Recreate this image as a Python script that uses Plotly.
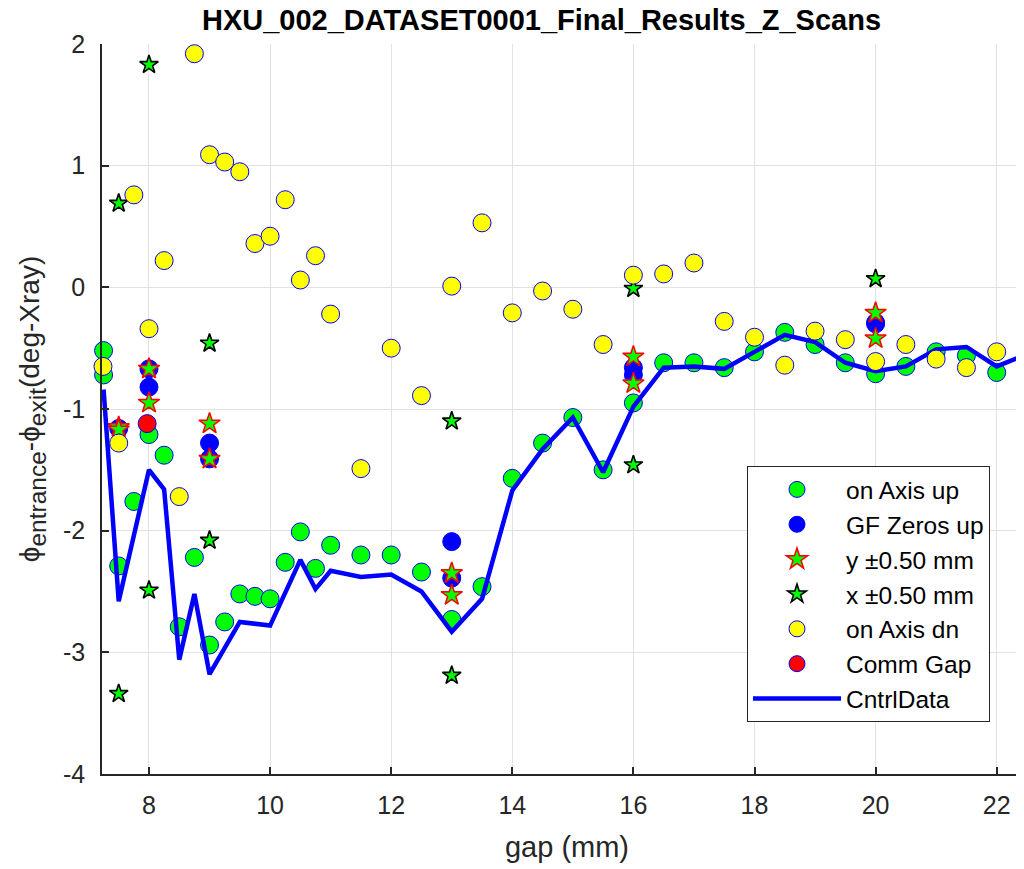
import plotly.graph_objects as go

# ---------------- data ----------------
gap_up = [7.25, 7.25, 7.5, 7.75, 8, 8.25, 8.5, 8.75, 9, 9.25, 9.5, 9.75, 10, 10.25, 10.5,
          10.75, 11, 11.5, 12, 12.5, 13, 13.5, 14, 14.5, 15, 15.5, 16, 16.5, 17, 17.5,
          18, 18.5, 19, 19.5, 20, 20.5, 21, 21.5, 22, 22.5]
on_axis_up = [-0.52, -0.72, -2.29, -1.76, -1.21, -1.38, -2.79, -2.22, -2.94, -2.75, -2.52,
              -2.54, -2.56, -2.26, -2.01, -2.31, -2.12, -2.20, -2.20, -2.34, -2.73, -2.46,
              -1.57, -1.28, -1.07, -1.50, -0.95, -0.62, -0.62, -0.66, -0.53, -0.37, -0.47,
              -0.62, -0.71, -0.65, -0.53, -0.56, -0.70, -0.46]

gap_dn = [7.24, 7.22, 7.5, 7.75, 8, 8.25, 8.5, 8.75, 9, 9.25, 9.5, 9.75, 10, 10.25, 10.5,
          10.75, 11, 11.5, 12, 12.5, 13, 13.5, 14, 14.5, 15, 15.5, 16, 16.5, 17, 17.5,
          18, 18.5, 19, 19.5, 20, 20.5, 21, 21.5, 22, 22.5]
on_axis_dn = [-0.65, -1.22, -1.28, 0.76, -0.34, 0.22, -1.72, 1.92, 1.09, 1.03, 0.95, 0.36,
              0.42, 0.72, 0.06, 0.26, -0.22, -1.49, -0.50, -0.89, 0.01, 0.53, -0.21, -0.03,
              -0.18, -0.47, 0.10, 0.11, 0.20, -0.28, -0.41, -0.64, -0.36, -0.43, -0.61,
              -0.47, -0.59, -0.66, -0.53, -0.55]

gap_gf = [7.5, 8, 8, 9, 9, 13, 13, 16, 16, 20, 20]
gf_zeros_up = [-1.16, -0.67, -0.82, -1.28, -1.41, -2.09, -2.39, -0.66, -0.72, -0.29, -0.30]

gap_y = [7.5, 7.5, 8, 8, 9, 9, 13, 13, 16, 16, 20, 20]
y_offset = [-1.15, -1.17, -0.67, -0.95, -1.12, -1.41, -2.35, -2.53, -0.57, -0.79, -0.21, -0.42]

gap_x = [7.5, 7.5, 8, 8, 9, 9, 13, 13, 16, 16, 20]
x_offset = [0.69, -3.34, 1.83, -2.49, -0.46, -2.08, -1.10, -3.19, -0.01, -1.46, 0.07]

gap_comm = [7.97]
comm_gap = [-1.12]

gap_ctrl = [7.25, 7.5, 8, 8.25, 8.5, 8.75, 9, 9.5, 10, 10.5, 10.75, 11, 11.5, 12, 12.5,
            13, 13.5, 14, 14.5, 15, 15.5, 16, 16.5, 17, 17.5, 18, 18.5, 19, 19.5, 20,
            20.5, 21, 21.5, 22, 22.5]
cntrl_data = [-0.84, -2.58, -1.50, -1.66, -3.06, -2.52, -3.18, -2.75, -2.78, -2.24, -2.48,
              -2.33, -2.38, -2.36, -2.50, -2.83, -2.56, -1.67, -1.33, -1.07, -1.52, -0.98,
              -0.66, -0.65, -0.67, -0.53, -0.39, -0.45, -0.62, -0.69, -0.65, -0.51, -0.49,
              -0.65, -0.55]

x_ticks = [8, 10, 12, 14, 16, 18, 20, 22]
y_ticks = [-4, -3, -2, -1, 0, 1, 2]

title_text = "HXU_002_DATASET0001_Final_Results_Z_Scans"
x_label = "gap (mm)"
# main parts at 28 px, subscripts at 70 % of the 35 px base font
y_label = ("<span style='font-size:28px'>ϕ</span><sub>entrance</sub>"
           "<span style='font-size:28px'>-ϕ</span><sub>exit</sub>"
           "<span style='font-size:28px'>(deg-Xray)</span>")

# ---------------- figure ----------------
FONT = "Liberation Sans, Arial, Helvetica, sans-serif"
AX = "#262626"

# page body has an 8 px margin: figure coordinates = screen coordinates - 8
W, H = 1024, 869
ML, MT, MB = 94, 36, 103
PW = W - ML
PH = H - MT - MB

fig = go.Figure()

fig.add_trace(go.Scatter(
    x=gap_up, y=on_axis_up, mode="markers", name="on Axis up", legendrank=1,
    cliponaxis=False,
    marker=dict(symbol="circle", size=18, color="#00ff00", line=dict(color="#0000ff", width=1))))
fig.add_trace(go.Scatter(
    x=gap_gf, y=gf_zeros_up, mode="markers", name="GF Zeros up", legendrank=2,
    cliponaxis=False,
    marker=dict(symbol="circle", size=18, color="#0000ff", line=dict(color="#0000ff", width=1))))
fig.add_trace(go.Scatter(
    x=gap_y, y=y_offset, mode="markers", name="y ±0.50 mm", legendrank=3,
    cliponaxis=False,
    marker=dict(symbol="star", size=16, color="#00ff00", line=dict(color="#ff0000", width=1.5))))
fig.add_trace(go.Scatter(
    x=gap_x, y=x_offset, mode="markers", name="x ±0.50 mm", legendrank=4,
    cliponaxis=False,
    marker=dict(symbol="star", size=14, color="#00ff00", line=dict(color="#000000", width=1.6))))
fig.add_trace(go.Scatter(
    x=gap_ctrl, y=cntrl_data, mode="lines", name="CntrlData", legendrank=7,
    line=dict(color="#0000ff", width=4.5)))
fig.add_trace(go.Scatter(
    x=gap_dn, y=on_axis_dn, mode="markers", name="on Axis dn", legendrank=5,
    cliponaxis=False,
    marker=dict(symbol="circle", size=18, color="#ffff00", line=dict(color="#0000ff", width=1))))
fig.add_trace(go.Scatter(
    x=gap_comm, y=comm_gap, mode="markers", name="Comm Gap", legendrank=6,
    cliponaxis=False,
    marker=dict(symbol="circle", size=18, color="#ff0000", line=dict(color="#0000ff", width=1))))

fig.update_layout(
    width=W, height=H,
    margin=dict(l=ML, r=0, t=MT, b=MB, autoexpand=False),
    paper_bgcolor="white", plot_bgcolor="white",
    font=dict(family=FONT, size=24, color=AX),
    title=dict(text="<b>" + title_text + "</b>", x=533.5 / W, xanchor="center",
               y=1 - 2 / H, yanchor="top", yref="container", pad=dict(t=0, b=0),
               font=dict(family=FONT, size=29, color="#000000")),
    showlegend=True,
    legend=dict(x=(739 - ML) / PW, y=(MT + PH - 458) / PH, xanchor="left", yanchor="top",
                bgcolor="white", bordercolor=AX, borderwidth=1,
                font=dict(family=FONT, size=24.5, color="#000000"),
                itemwidth=88, traceorder="normal"),
    xaxis=dict(range=[7.224, 22.583], tickvals=x_ticks, ticktext=[str(v) for v in x_ticks],
               automargin=False,
               showgrid=True, gridcolor="#e2e2e2", gridwidth=1, zeroline=False,
               showline=True, linecolor=AX, linewidth=1.5,
               ticks="inside", ticklen=7, tickcolor=AX, tickwidth=1.5,
               tickfont=dict(family=FONT, size=25, color=AX), ticklabelstandoff=8,
               title=dict(text=x_label, standoff=19, font=dict(family=FONT, size=29, color=AX))),
    yaxis=dict(range=[-4, 2], tickvals=y_ticks, ticktext=[str(v) for v in y_ticks],
               automargin=False,
               showgrid=True, gridcolor="#e2e2e2", gridwidth=1, zeroline=False,
               showline=True, linecolor=AX, linewidth=1.5,
               ticks="inside", ticklen=7, tickcolor=AX, tickwidth=1.5,
               tickfont=dict(family=FONT, size=25, color=AX), ticklabelstandoff=10,
               title=dict(text=y_label, standoff=13, font=dict(family=FONT, size=35, color=AX))),
)

fig.write_html("out.html")
